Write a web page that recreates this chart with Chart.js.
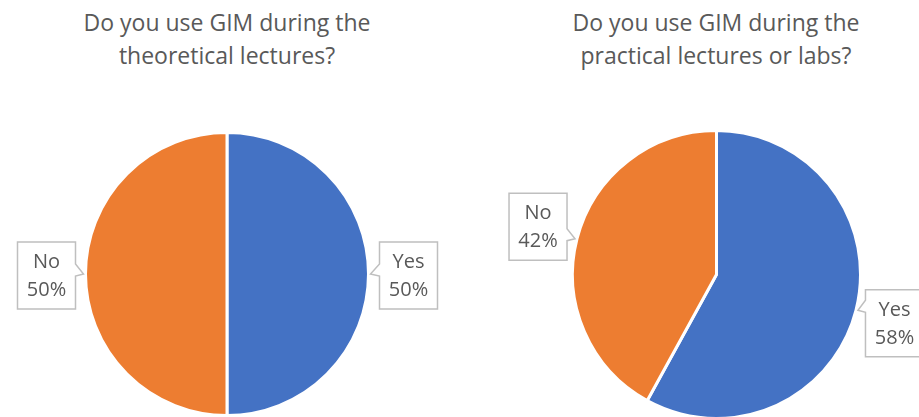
<!DOCTYPE html>
<html>
<head>
<meta charset="utf-8">
<script src="https://cdn.jsdelivr.net/npm/chart.js@4.4.0/dist/chart.umd.min.js"></script>
<style>
  html, body { margin: 0; padding: 0; background: #fff; overflow: hidden; }
  body { width: 919px; height: 417px; position: relative; }
  .title {
    position: absolute; top: 6px; width: 400px; text-align: center;
    font-family: "Open Sans", sans-serif; font-size: 23px; line-height: 33px; color: #595959;
  }
  canvas { position: absolute; top: 0; }
</style>
</head>
<body>
<div class="title" id="t1" style="left:27px">Do you use GIM during the<br>theoretical lectures?</div>
<div class="title" id="t2" style="left:516px">Do you use GIM during the<br>practical lectures or labs?</div>
<canvas id="theoryChart" width="459" height="432" style="left:0"></canvas>
<canvas id="practiceChart" width="460" height="432" style="left:459px"></canvas>
<script>
const answers = ['Yes', 'No'];
const theoryShare = [50, 50];
const practiceShare = [58, 42];
const sliceColors = ['#4472C4', '#ED7D31'];

// 말풍선 라벨: 조각 바깥 가장자리 중앙을 가리키는 박스
const calloutPlugin = {
  id: 'callout',
  afterDatasetsDraw(chart, args, opts) {
    const ctx = chart.ctx;
    const meta = chart.getDatasetMeta(0);
    const values = chart.data.datasets[0].data;
    const total = values.reduce((a, b) => a + b, 0);
    meta.data.forEach((arc, i) => {
      const { x, y, startAngle, endAngle, outerRadius } = arc.getProps(['x', 'y', 'startAngle', 'endAngle', 'outerRadius'], true);
      const mid = (startAngle + endAngle) / 2;
      const ex = x + Math.cos(mid) * outerRadius;
      const ey = y + Math.sin(mid) * outerRadius;
      const off = opts.offsets[i];
      const w = 58, h = 67;
      const bx = ex + off[0] - w / 2;
      const by = ey + off[1] - h / 2;
      const leftSide = off[0] < 0;
      const tipX = leftSide ? ex - 2 : ex + 2;
      const tipY = ey;
      const b1 = Math.max(by + 4, Math.min(by + h - 16, tipY - 10));
      const b2 = b1 + 12;

      ctx.save();
      ctx.beginPath();
      if (leftSide) {
        ctx.moveTo(bx, by);
        ctx.lineTo(bx + w, by);
        ctx.lineTo(bx + w, b1);
        ctx.lineTo(tipX, tipY);
        ctx.lineTo(bx + w, b2);
        ctx.lineTo(bx + w, by + h);
        ctx.lineTo(bx, by + h);
      } else {
        ctx.moveTo(bx, by);
        ctx.lineTo(bx + w, by);
        ctx.lineTo(bx + w, by + h);
        ctx.lineTo(bx, by + h);
        ctx.lineTo(bx, b2);
        ctx.lineTo(tipX, tipY);
        ctx.lineTo(bx, b1);
      }
      ctx.closePath();
      ctx.fillStyle = '#ffffff';
      ctx.fill();
      ctx.strokeStyle = '#BFBFBF';
      ctx.lineWidth = 1.5;
      ctx.stroke();

      ctx.fillStyle = '#595959';
      ctx.font = '20px "Open Sans", sans-serif';
      ctx.textAlign = 'center';
      ctx.textBaseline = 'middle';
      const pct = Math.round(values[i] / total * 100) + '%';
      ctx.fillText(chart.data.labels[i], bx + w / 2, by + h / 2 - 13);
      ctx.fillText(pct, bx + w / 2, by + h / 2 + 15);
      ctx.restore();
    });
  }
};

function makePie(id, values, padding, offsets) {
  return new Chart(document.getElementById(id), {
    type: 'pie',
    data: {
      labels: answers,
      datasets: [{
        data: values,
        backgroundColor: sliceColors,
        borderColor: '#ffffff',
        borderWidth: 3
      }]
    },
    options: {
      responsive: false,
      animation: false,
      layout: { padding: padding },
      plugins: {
        legend: { display: false },
        tooltip: { enabled: false },
        callout: { offsets: offsets }
      }
    },
    plugins: [calloutPlugin]
  });
}

makePie('theoryChart', theoryShare,
  { left: 84, right: 89, top: 131, bottom: 15 },
  [[40, 1.5], [-39, 1.5]]);
makePie('practiceChart', practiceShare,
  { left: 112, right: 57, top: 129, bottom: 12 },
  [[38.5, 13], [-39, -12]]);
</script>
</body>
</html>
